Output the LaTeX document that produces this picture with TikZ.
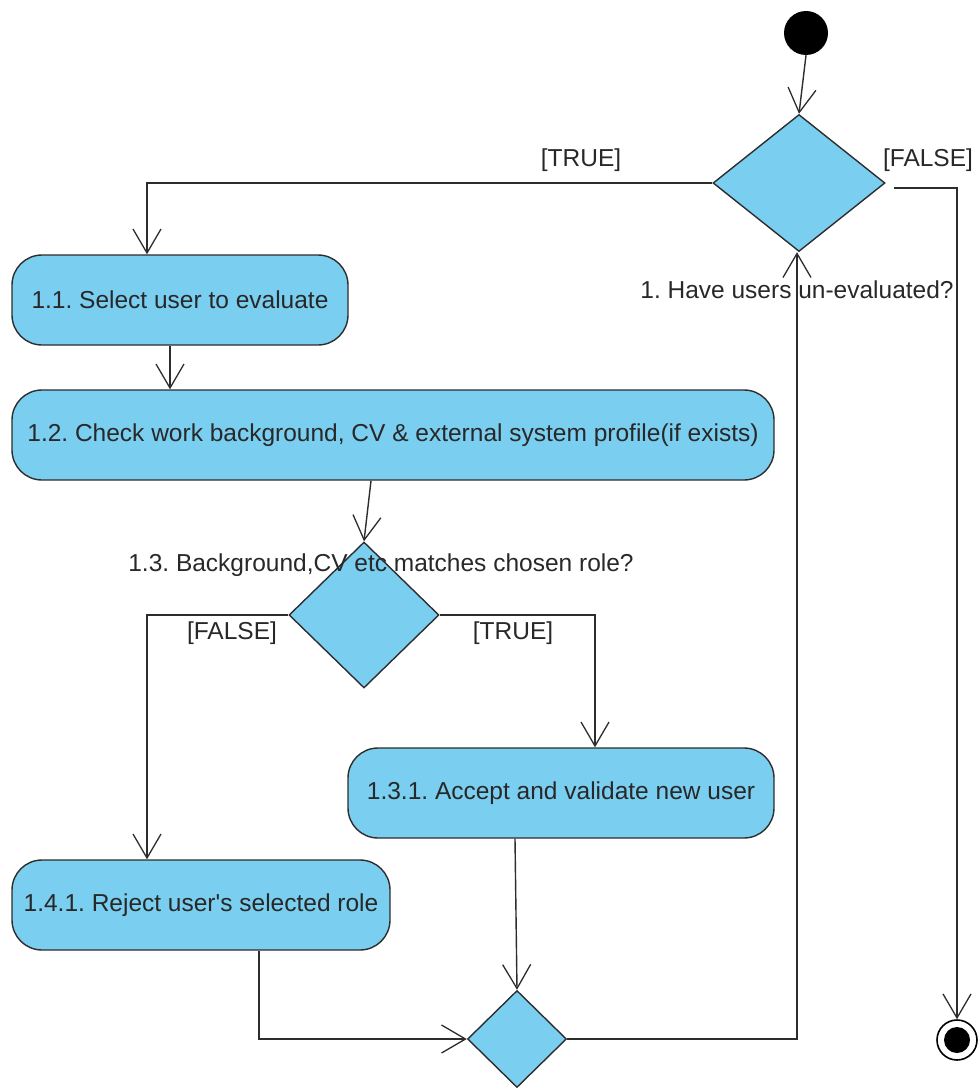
\documentclass[tikz,border=0pt]{standalone}
\usepackage{fontspec}
\setmainfont{Liberation Sans}
\usetikzlibrary{shapes.geometric,arrows.meta}
\definecolor{actfill}{RGB}{122,206,240}
\definecolor{edgeline}{RGB}{45,45,45}
\definecolor{txt}{RGB}{40,40,40}
\frenchspacing
% straight apostrophe, taken from the font directly
\newcommand{\straightquote}{\XeTeXglyph\XeTeXglyphindex "quotesingle"\relax}
\begin{document}
\begin{tikzpicture}[x=1pt,y=-1pt,
  every node/.style={font=\fontsize{24.5}{28}\selectfont, text=txt},
  act/.style={draw=edgeline, line width=1.4pt, fill=actfill, rectangle, rounded corners=30pt, minimum height=90pt, inner sep=0pt},
  decision/.style={draw=edgeline, line width=1.4pt, fill=actfill, diamond, inner sep=0pt},
  flow/.style={draw=edgeline, line width=1.4pt, -{Straight Barb[length=24pt,width=28pt,line width=1.3pt]}},
  guard/.style={inner sep=0pt, text=txt}]
\useasboundingbox (0,0) rectangle (977,1089);

% initial and final nodes
\node[circle, fill=black, minimum size=44pt, inner sep=0pt] (start) at (806,33) {};
\node[circle, draw=black, line width=1.6pt, fill=white, minimum size=40pt, inner sep=0pt] (end) at (957,1040) {};
\node[circle, fill=black, minimum size=26pt, inner sep=0pt] (endcore) at (957,1040) {};

% decisions
\node[decision, minimum width=172pt, minimum height=137pt] (d1) at (799,183) {};
\node[decision, minimum width=150pt, minimum height=146pt] (d13) at (364,615) {};
\node[decision, minimum width=99pt, minimum height=97pt] (m) at (517,1039) {};

% actions
\node[act, minimum width=336pt] (b11) at (180,300) {1.1. Select user to evaluate};
\node[act, minimum width=762pt] (b12) at (393,435) {1.2. Check work background, CV \& external system profile(if exists)};
\node[act, minimum width=426pt] (b131) at (561,793) {1.3.1. Accept and validate new user};
\node[act, minimum width=378pt] (b141) at (201,905) {1.4.1. Reject user\straightquote s selected role};

% flows
\draw[flow] (start.south) -- (d1.north);
\draw[flow] (d1.west) -| ([xshift=-33pt]b11.north);
\draw[flow] ([xshift=8pt,yshift=-5pt]d1.east) -| (end.north);
\draw[flow] ([xshift=-10pt]b11.south) -- ([xshift=-10pt]b11.south |- b12.north);
\draw[flow] ([xshift=-22pt]b12.south) -- (d13.north);
\draw[flow] (d13.west) -| ([xshift=-54pt]b141.north);
\draw[flow] (d13.east) -| ([xshift=34pt]b131.north);
\draw[flow] ([xshift=-46pt]b131.south) -- (m.north);
\draw[flow] ([xshift=58pt]b141.south) |- (m.west);
\draw[flow] (m.east) -| ([xshift=-2pt]d1.south);

% guards and decision labels
\node[guard] (g1t) at (581,160) {[TRUE]};
\node[guard] (g1f) at (928,160) {[FALSE]};
\node[guard] (l1) at (797,290) {1. Have users un-evaluated?};
\node[guard] (l13) at (381,565) {1.3. Background,CV etc matches chosen role?};
\node[guard] (g13f) at (232,633) {[FALSE]};
\node[guard] (g13t) at (513,633) {[TRUE]};
\end{tikzpicture}
\end{document}
